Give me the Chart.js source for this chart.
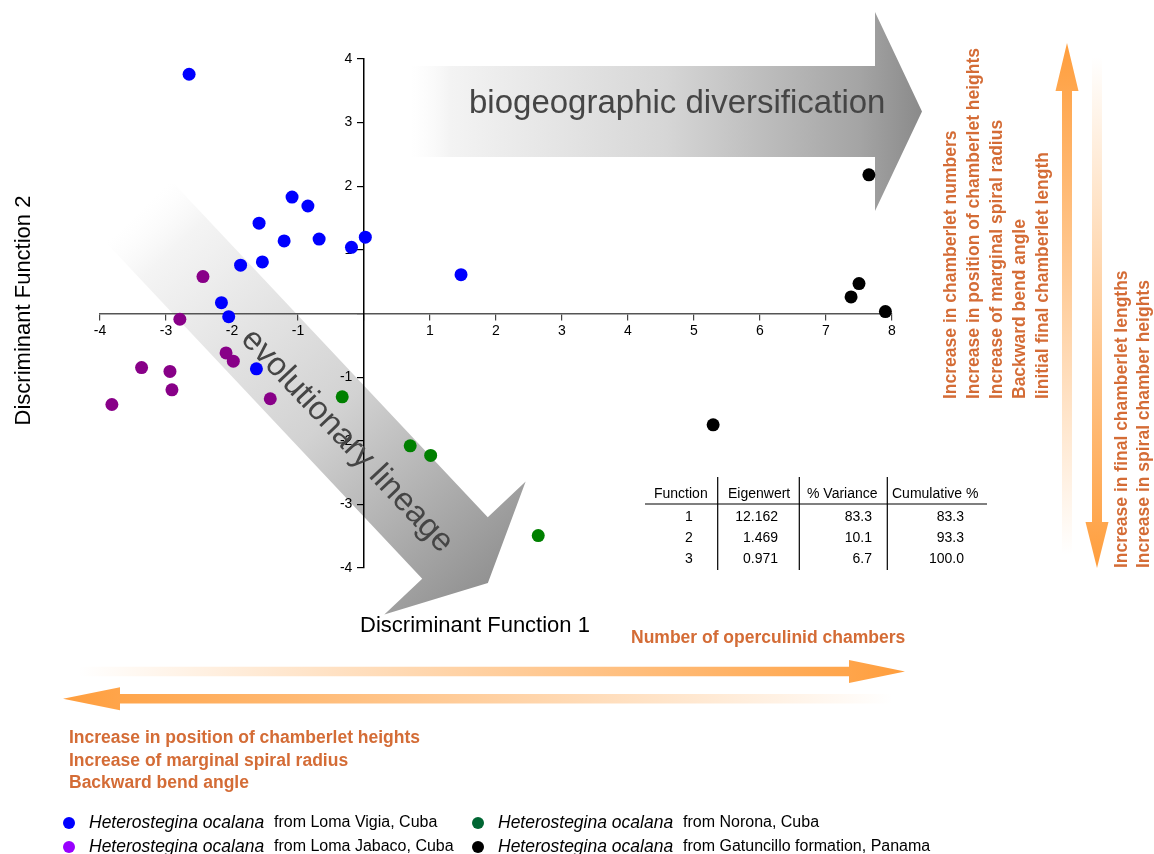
<!DOCTYPE html>
<html>
<head>
<meta charset="utf-8">
<script src="https://cdn.jsdelivr.net/npm/chart.js@4.4.1/dist/chart.umd.min.js"></script>
<style>
  html, body { margin: 0; padding: 0; background: #fff; }
  #wrap { width: 1154px; height: 854px; position: relative; }
</style>
</head>
<body>
<div id="wrap"><canvas id="chart"></canvas></div>
<script>
// ---- data ----
const GROUPS = ['Loma Vigia, Cuba', 'Loma Jabaco, Cuba', 'Norona, Cuba', 'Gatuncillo formation, Panama'];

const vigiaX  = [-2.65, -1.09, -0.85, -1.59, -1.21, -0.68, -0.19, 0.02, 1.47, -1.87, -1.54, -2.16, -2.05, -1.63];
const vigiaY  = [ 3.76,  1.83,  1.69,  1.42,  1.14,  1.17,  1.04, 1.20, 0.61,  0.76,  0.81,  0.17, -0.05, -0.87];
const jabacoX = [-2.44, -2.79, -2.09, -1.98, -3.37, -2.94, -2.91, -3.82, -1.42];
const jabacoY = [ 0.58, -0.09, -0.62, -0.75, -0.85, -0.91, -1.20, -1.43, -1.34];
const noronaX = [-0.33,  0.70,  1.01,  2.64];
const noronaY = [-1.31, -2.08, -2.23, -3.49];
const gatunX  = [ 7.65,  7.50,  7.38,  7.90,  5.29];
const gatunY  = [ 2.18,  0.47,  0.26,  0.03, -1.75];

const X_TICK_LABELS = ['-4', '-3', '-2', '-1', '', '1', '2', '3', '4', '5', '6', '7', '8'];
const Y_TICK_LABELS = ['-4', '-3', '-2', '-1', '', '1', '2', '3', '4'];

const TABLE_HEAD = ['Function', 'Eigenwert', '% Variance', 'Cumulative %'];
const FUNCTION_NO = ['1', '2', '3'];
const EIGENWERT   = ['12.162', '1.469', '0.971'];
const PCT_VAR     = ['83.3', '10.1', '6.7'];
const CUM_PCT     = ['83.3', '93.3', '100.0'];

const RIGHT_UP_TEXT = [
  'Increase in chamberlet numbers',
  'Increase in position of chamberlet heights',
  'Increase of marginal spiral radius',
  'Backward bend angle',
  'Iinitial final chamberlet length',
];
const RIGHT_DOWN_TEXT = ['Increase in final chamberlet lengths', 'Increase in spiral chamber heights'];
const LEFT_TEXT = ['Increase in position of chamberlet heights', 'Increase of marginal spiral radius', 'Backward bend angle'];
const RIGHT_TEXT = 'Number of operculinid chambers';

// ---- style ----
const FONT      = "'Liberation Sans', Arial, Helvetica, sans-serif";
const ORANGE    = '255,158,61';
const ORANGE_TX = '#d46c36';
const POINT_COLORS  = ['#0000ff', '#880088', '#008000', '#000000'];
const LEGEND_COLORS = ['#0000ff', '#9900ff', '#006633', '#000000'];

const zip = (xs, ys) => xs.map((x, i) => ({ x, y: ys[i] }));
const seriesData = [zip(vigiaX, vigiaY), zip(jabacoX, jabacoY), zip(noronaX, noronaY), zip(gatunX, gatunY)];

function poly(ctx, pts) {
  ctx.beginPath();
  pts.forEach((p, i) => (i ? ctx.lineTo(p[0], p[1]) : ctx.moveTo(p[0], p[1])));
  ctx.closePath();
}

function orangeArrow(ctx, x0, y0, x1, y1, shaftW, headW, headL, fadeStart) {
  // arrow pointing from (x0,y0) to (x1,y1); colour fades out towards the tail
  const len = Math.hypot(x1 - x0, y1 - y0);
  const ux = (x1 - x0) / len, uy = (y1 - y0) / len;
  const nx = -uy, ny = ux;
  const bx = x1 - ux * headL, by = y1 - uy * headL;
  const hs = shaftW / 2, hh = headW / 2;
  const g = ctx.createLinearGradient(x0, y0, x1, y1);
  g.addColorStop(0, `rgba(${ORANGE},0)`);
  g.addColorStop(fadeStart, `rgba(${ORANGE},0.35)`);
  g.addColorStop(1, `rgba(${ORANGE},1)`);
  ctx.fillStyle = g;
  poly(ctx, [
    [x0 + nx * hs, y0 + ny * hs], [bx + nx * hs, by + ny * hs], [bx + nx * hh, by + ny * hh],
    [x1, y1],
    [bx - nx * hh, by - ny * hh], [bx - nx * hs, by - ny * hs], [x0 - nx * hs, y0 - ny * hs],
  ]);
  ctx.fill();
}

const decor = {
  id: 'decor',
  beforeDraw(chart) {
    const ctx = chart.ctx;
    ctx.save();
    ctx.fillStyle = '#fff';
    ctx.fillRect(0, 0, chart.width, chart.height);

    // grey arrow: biogeographic diversification
    let g = ctx.createLinearGradient(410, 0, 922, 0);
    g.addColorStop(0, 'rgba(250,250,250,0)');
    g.addColorStop(0.08, '#f3f3f3');
    g.addColorStop(0.5, '#d6d6d6');
    g.addColorStop(0.88, '#a4a4a4');
    g.addColorStop(1, '#8a8a8a');
    ctx.fillStyle = g;
    poly(ctx, [[410, 66], [875, 66], [875, 12], [922, 111.5], [875, 211], [875, 157], [410, 157]]);
    ctx.fill();

    // grey arrow: evolutionary lineage
    const T = [138.5, 211.5], B = [455, 548];
    const L = Math.hypot(B[0] - T[0], B[1] - T[1]);
    const u = [(B[0] - T[0]) / L, (B[1] - T[1]) / L];
    const n = [u[1], -u[0]];
    const tip = [B[0] + u[0] * 48, B[1] + u[1] * 48];
    const at = (p, k) => [p[0] + n[0] * k, p[1] + n[1] * k];
    g = ctx.createLinearGradient(T[0], T[1], tip[0], tip[1]);
    g.addColorStop(0, 'rgba(250,250,250,0)');
    g.addColorStop(0.1, '#f4f4f4');
    g.addColorStop(0.55, '#d2d2d2');
    g.addColorStop(1, '#929292');
    ctx.fillStyle = g;
    poly(ctx, [at(T, 45), at(B, 45), at(B, 97), tip, at(B, -97), at(B, -45), at(T, -45)]);
    ctx.fill();
    ctx.restore();
  },
  beforeDatasetsDraw(chart) {
    const ctx = chart.ctx;
    ctx.save();
    ctx.fillStyle = '#454545';
    ctx.font = `33px ${FONT}`;
    ctx.textAlign = 'left';
    ctx.textBaseline = 'alphabetic';
    ctx.fillText('biogeographic diversification', 469, 113);
    ctx.translate(347, 441);
    ctx.rotate(Math.atan2(336.5, 316.5));
    ctx.textAlign = 'center';
    ctx.textBaseline = 'middle';
    ctx.fillText('evolutionary lineage', 0, 0);
    ctx.restore();
  },
  afterDraw(chart) {
    const ctx = chart.ctx;
    ctx.save();

    // axis titles
    ctx.fillStyle = '#000';
    ctx.font = `22px ${FONT}`;
    ctx.textAlign = 'center';
    ctx.textBaseline = 'middle';
    ctx.fillText('Discriminant Function 1', 475, 626);
    ctx.save();
    ctx.translate(24, 310.5);
    ctx.rotate(-Math.PI / 2);
    ctx.fillText('Discriminant Function 2', 0, 0);
    ctx.restore();

    // orange arrows
    orangeArrow(ctx, 1067, 555, 1067, 43, 10, 23, 48, 0.35);
    orangeArrow(ctx, 1097, 57, 1097, 568, 10, 23, 46, 0.35);
    orangeArrow(ctx, 78, 671.5, 905, 671.5, 9.5, 23, 56, 0.35);
    orangeArrow(ctx, 893, 698.7, 63, 698.7, 9.5, 23, 57, 0.35);

    // orange captions
    ctx.fillStyle = ORANGE_TX;
    ctx.font = `bold 17.5px ${FONT}`;
    ctx.textAlign = 'left';
    ctx.textBaseline = 'alphabetic';
    ctx.fillText(RIGHT_TEXT, 631, 643);
    LEFT_TEXT.forEach((t, i) => ctx.fillText(t, 69, 743 + i * 22.5));
    ctx.save();
    ctx.rotate(-Math.PI / 2);
    RIGHT_UP_TEXT.forEach((t, i) => ctx.fillText(t, -399, 956 + i * 23));
    RIGHT_DOWN_TEXT.forEach((t, i) => ctx.fillText(t, -568, 1127 + i * 22));
    ctx.restore();

    // eigenvalue table
    ctx.fillStyle = '#000';
    ctx.strokeStyle = '#000';
    ctx.font = `14px ${FONT}`;
    ctx.textBaseline = 'middle';
    ctx.textAlign = 'left';
    [654, 728, 807, 892].forEach((x, i) => ctx.fillText(TABLE_HEAD[i], x, 494));
    ctx.lineWidth = 1.2;
    ctx.beginPath();
    [717.7, 799.3, 887.3].forEach(x => { ctx.moveTo(x, 477); ctx.lineTo(x, 570); });
    ctx.moveTo(645, 504); ctx.lineTo(987, 504);
    ctx.stroke();
    const rowY = [517.5, 538.5, 559];
    FUNCTION_NO.forEach((v, i) => {
      ctx.textAlign = 'center';
      ctx.fillText(v, 689, rowY[i]);
      ctx.textAlign = 'right';
      ctx.fillText(EIGENWERT[i], 778, rowY[i]);
      ctx.fillText(PCT_VAR[i], 872, rowY[i]);
      ctx.fillText(CUM_PCT[i], 964, rowY[i]);
    });

    // legend
    const legendPos = [[69, 823], [69, 847], [478, 823], [478, 847]];
    ctx.textAlign = 'left';
    ctx.textBaseline = 'middle';
    GROUPS.forEach((name, gi) => {
      const [lx, ly] = legendPos[gi];
      ctx.fillStyle = LEGEND_COLORS[gi];
      ctx.beginPath();
      ctx.arc(lx, ly, 6, 0, Math.PI * 2);
      ctx.fill();
      ctx.fillStyle = '#000';
      ctx.font = `italic 17.5px ${FONT}`;
      ctx.fillText('Heterostegina ocalana', lx + 20, ly);
      ctx.font = `16px ${FONT}`;
      ctx.fillText('from ' + name, lx + 205, ly);
    });
    ctx.restore();
  },
};

new Chart(document.getElementById('chart'), {
  type: 'scatter',
  data: {
    datasets: seriesData.map((d, i) => ({
      label: GROUPS[i],
      data: d,
      backgroundColor: POINT_COLORS[i],
      borderWidth: 0,
      pointRadius: 6.5,
      pointHoverRadius: 6.5,
    })),
  },
  options: {
    responsive: true,
    maintainAspectRatio: false,
    animation: false,
    layout: { padding: { left: 100, right: 262, top: 59, bottom: 286 } },
    plugins: { legend: { display: false }, tooltip: { enabled: false } },
    scales: {
      x: {
        type: 'linear',
        min: -4,
        max: 8,
        position: { y: 0 },
        afterFit: (s) => { s.height = 0; },
        ticks: {
          stepSize: 1,
          autoSkip: false,
          maxRotation: 0,
          padding: 3,
          color: '#000',
          font: { family: FONT, size: 14 },
          callback: (v, i) => X_TICK_LABELS[i],
        },
        grid: { display: true, drawOnChartArea: false, drawTicks: true, tickLength: 6, color: '#444', lineWidth: 1.2 },
        border: { display: true, color: '#555', width: 1.5 },
      },
      y: {
        type: 'linear',
        min: -4,
        max: 4,
        position: { x: 0 },
        afterFit: (s) => { s.width = 0; },
        ticks: {
          stepSize: 1,
          autoSkip: false,
          color: '#000',
          font: { family: FONT, size: 14 },
          // labels of a value-positioned axis sit right on the line; trailing spaces push them left
          callback: (v, i) => (Y_TICK_LABELS[i] ? Y_TICK_LABELS[i] + '   ' : ''),
        },
        grid: { display: true, drawOnChartArea: false, drawTicks: true, tickLength: 6, color: '#000', lineWidth: 1.2 },
        border: { display: true, color: '#000', width: 1.5 },
      },
    },
  },
  plugins: [decor],
});
</script>
</body>
</html>
